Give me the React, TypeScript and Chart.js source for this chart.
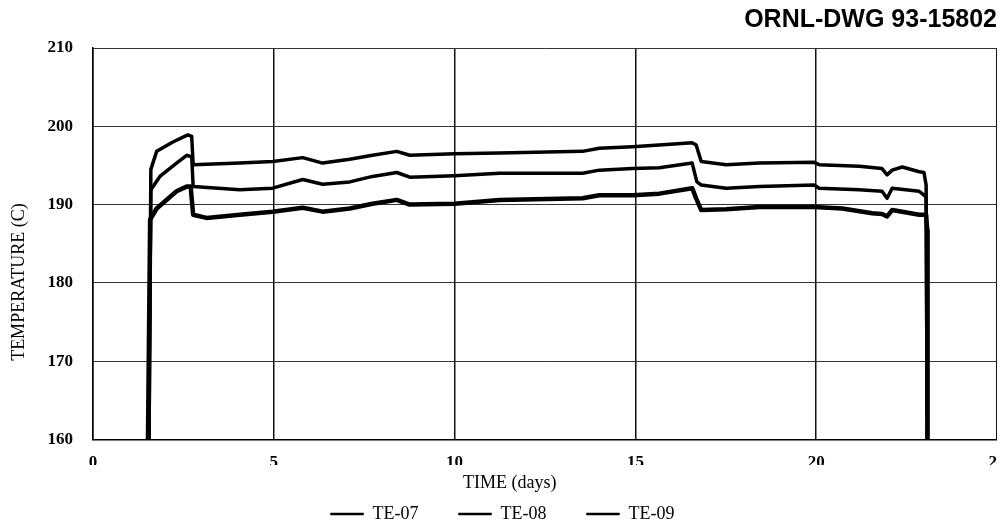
import React, { useEffect, useRef } from 'react';
import { Chart, registerables } from 'chart.js';

Chart.register(...registerables);

const CHART_TITLE = 'ORNL-DWG 93-15802';
const X_TITLE = 'TIME (days)';
const Y_TITLE = 'TEMPERATURE (C)';

const xTickValues = [0, 5, 10, 15, 20, 25];
const yTickValues = [160, 170, 180, 190, 200, 210];

const seriesNames = ['TE-07', 'TE-08', 'TE-09'];

const te07Time = [1.55, 1.6, 1.76, 2.21, 2.62, 2.73, 2.77, 4.06, 4.97, 5.8, 6.35, 7.1, 7.73, 8.4, 8.76, 10.0, 11.24, 13.54, 14.0, 14.92, 15.66, 16.57, 16.68, 16.82, 17.51, 18.43, 19.94, 20.08, 21.19, 21.82, 21.96, 22.1, 22.38, 22.85, 22.98, 23.04, 23.07];
const te07Temp = [160, 194.5, 196.8, 198.0, 198.9, 198.7, 195.1, 195.3, 195.5, 196.0, 195.3, 195.8, 196.3, 196.8, 196.3, 196.5, 196.6, 196.8, 197.2, 197.4, 197.6, 197.9, 197.6, 195.5, 195.1, 195.3, 195.4, 195.1, 194.9, 194.6, 193.8, 194.4, 194.8, 194.2, 194.1, 192.5, 160];

const te08Time = [1.55, 1.6, 1.85, 2.31, 2.59, 2.73, 2.77, 4.06, 4.97, 5.8, 6.35, 7.1, 7.73, 8.4, 8.76, 10.0, 11.24, 13.54, 14.0, 14.92, 15.66, 16.57, 16.7, 16.82, 17.51, 18.43, 19.94, 20.08, 21.19, 21.82, 21.96, 22.1, 22.85, 23.04, 23.07];
const te08Temp = [160, 191.9, 193.6, 195.3, 196.3, 196.1, 192.3, 191.9, 192.1, 193.2, 192.6, 192.9, 193.6, 194.1, 193.5, 193.7, 194.0, 194.0, 194.4, 194.6, 194.7, 195.3, 192.9, 192.5, 192.1, 192.3, 192.5, 192.1, 191.9, 191.7, 190.8, 192.1, 191.7, 191.0, 160];

const te09Time = [1.52, 1.58, 1.76, 2.31, 2.59, 2.7, 2.77, 3.14, 4.06, 4.97, 5.8, 6.35, 7.1, 7.73, 8.4, 8.76, 10.0, 11.24, 13.54, 14.0, 14.92, 15.66, 16.57, 16.68, 16.82, 17.51, 18.43, 19.94, 20.72, 21.55, 21.82, 21.96, 22.1, 22.85, 23.04, 23.07, 23.08];
const te09Temp = [160, 188.1, 189.5, 191.7, 192.3, 192.3, 188.7, 188.3, 188.7, 189.1, 189.6, 189.1, 189.5, 190.1, 190.6, 190.0, 190.1, 190.6, 190.8, 191.2, 191.2, 191.4, 192.1, 190.8, 189.3, 189.4, 189.7, 189.7, 189.5, 188.9, 188.8, 188.5, 189.3, 188.7, 188.7, 186.8, 160];

const toPoints = (xs: number[], ys: number[]) => xs.map((x, i) => ({ x, y: ys[i] }));

const SERIF = '"Liberation Serif", "Times New Roman", serif';
const SANS = '"Liberation Sans", Arial, sans-serif';

const axisTitlesPlugin = {
  id: 'axisTitlesPlugin',
  afterDraw(chart: any) {
    const { ctx, chartArea } = chart;
    ctx.save();
    ctx.fillStyle = '#000';
    ctx.textAlign = 'center';
    ctx.textBaseline = 'middle';
    ctx.save();
    ctx.font = `18px ${SERIF}`;
    ctx.translate(11.5, chartArea.top + chartArea.height * 0.598);
    ctx.rotate(-Math.PI / 2);
    ctx.fillText(Y_TITLE, 0, 0);
    ctx.restore();
    ctx.font = `18px ${SERIF}`;
    ctx.fillText(X_TITLE, chartArea.left + chartArea.width * 0.461, chartArea.bottom + 44);
    ctx.restore();
  },
};

export default function App() {
  const canvasRef = useRef<HTMLCanvasElement | null>(null);

  useEffect(() => {
    if (!canvasRef.current) return;
    const widths = [3.5, 3.5, 4.5];
    const data = [toPoints(te07Time, te07Temp), toPoints(te08Time, te08Temp), toPoints(te09Time, te09Temp)];
    const chart = new Chart(canvasRef.current, {
      type: 'line',
      data: {
        datasets: seriesNames.map((name, i) => ({
          label: name,
          data: data[i],
          borderColor: '#000',
          backgroundColor: '#000',
          borderWidth: widths[i],
          pointRadius: 0,
          tension: 0,
          borderJoinStyle: 'round' as const,
          fill: false,
        })),
      },
      options: {
        animation: false,
        responsive: false,
        layout: { autoPadding: false, padding: 0 },
        plugins: {
          title: {
            display: true,
            text: CHART_TITLE,
            align: 'end',
            color: '#000',
            font: { family: SANS, size: 25, weight: 'bold', lineHeight: 1 },
            padding: { top: 0, bottom: 15 },
          },
          legend: {
            display: true,
            position: 'bottom',
            labels: {
              color: '#000',
              font: { family: SERIF, size: 18 },
              boxWidth: 33,
              boxHeight: 2,
              padding: 40,
              generateLabels: (chart: any) => {
                const items = Chart.defaults.plugins.legend.labels.generateLabels(chart);
                return items.map((it: any) => ({ ...it, lineWidth: 0.5 }));
              },
            },
          },
          tooltip: { enabled: false },
        },
        scales: {
          x: {
            type: 'linear',
            min: xTickValues[0],
            max: xTickValues[xTickValues.length - 1],
            afterFit: (scale: any) => {
              scale.height = 25.5;
              scale.paddingLeft = 0;
              scale.paddingRight = 0;
            },
            afterBuildTicks: (scale: any) => { scale.ticks = xTickValues.map((v) => ({ value: v })); },
            ticks: {
              color: '#000',
              font: { family: SERIF, size: 17, weight: 'bold' },
              padding: 13,
              maxRotation: 0,
              autoSkip: false,
            },
            grid: { color: '#111', lineWidth: 1.5, drawTicks: false },
            border: { color: '#000', width: 1.5 },
          },
          y: {
            type: 'linear',
            min: yTickValues[0],
            max: yTickValues[yTickValues.length - 1],
            afterFit: (scale: any) => {
              scale.width = 85;
              scale.paddingTop = 0;
              scale.paddingBottom = 0;
            },
            afterBuildTicks: (scale: any) => { scale.ticks = yTickValues.map((v) => ({ value: v })); },
            ticks: {
              color: '#000',
              font: { family: SERIF, size: 17, weight: 'bold' },
              padding: 20,
            },
            grid: { color: '#333', lineWidth: 1, drawTicks: false },
            border: { color: '#000', width: 1.5 },
          },
        },
      } as any,
      plugins: [axisTitlesPlugin],
    });
    return () => chart.destroy();
  }, []);

  return <canvas ref={canvasRef} width={989} height={525} style={{ display: 'block' }} />;
}
